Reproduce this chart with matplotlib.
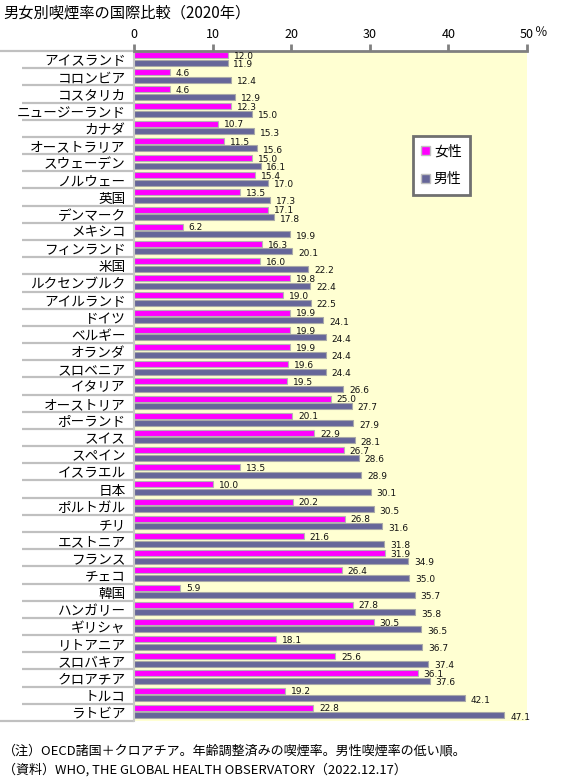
import numpy as np
import matplotlib
matplotlib.use("Agg")
import matplotlib.pyplot as plt
from matplotlib.patches import Patch

plt.rcParams['font.family'] = ['Noto Sans CJK JP', 'DejaVu Sans']

countries = ["アイスランド", "コロンビア", "コスタリカ", "ニュージーランド", "カナダ",
             "オーストラリア", "スウェーデン", "ノルウェー", "英国", "デンマーク",
             "メキシコ", "フィンランド", "米国", "ルクセンブルク", "アイルランド",
             "ドイツ", "ベルギー", "オランダ", "スロベニア", "イタリア",
             "オーストリア", "ポーランド", "スイス", "スペイン", "イスラエル",
             "日本", "ポルトガル", "チリ", "エストニア", "フランス",
             "チェコ", "韓国", "ハンガリー", "ギリシャ", "リトアニア",
             "スロバキア", "クロアチア", "トルコ", "ラトビア"]
female = [12.0, 4.6, 4.6, 12.3, 10.7, 11.5, 15.0, 15.4, 13.5, 17.1,
          6.2, 16.3, 16.0, 19.8, 19.0, 19.9, 19.9, 19.9, 19.6, 19.5,
          25.0, 20.1, 22.9, 26.7, 13.5, 10.0, 20.2, 26.8, 21.6, 31.9,
          26.4, 5.9, 27.8, 30.5, 18.1, 25.6, 36.1, 19.2, 22.8]
male = [11.9, 12.4, 12.9, 15.0, 15.3, 15.6, 16.1, 17.0, 17.3, 17.8,
        19.9, 20.1, 22.2, 22.4, 22.5, 24.1, 24.4, 24.4, 24.4, 26.6,
        27.7, 27.9, 28.1, 28.6, 28.9, 30.1, 30.5, 31.6, 31.8, 34.9,
        35.0, 35.7, 35.8, 36.5, 36.7, 37.4, 37.6, 42.1, 47.1]
xticks = [0, 10, 20, 30, 40, 50]
series_names = ["女性", "男性"]

title = "男女別喫煙率の国際比較（2020年）"
note1 = "（注）OECD諸国＋クロアチア。年齢調整済みの喫煙率。男性喫煙率の低い順。"
note2 = "（資料）WHO, THE GLOBAL HEALTH OBSERVATORY（2022.12.17）"

c_f = "#FF00FF"
c_m = "#666699"

W, H = 564, 784
fig = plt.figure(figsize=(W / 100, H / 100), dpi=100)
x0, x1, y0, y1 = 134, 527, 51, 721
ax = fig.add_axes([x0 / W, 1 - y1 / H, (x1 - x0) / W, (y1 - y0) / H])
ax.set_facecolor("#FFFFD2")

n = len(countries)
rows = np.arange(n)
bh = 0.35
ax.barh(rows + 0.23, female, height=bh, color=c_f, edgecolor="#B4B4B4", linewidth=0.8)
ax.barh(rows + 0.67, male, height=bh, color=c_m, edgecolor="#A8A8A8", linewidth=0.8)

for i in range(n):
    ax.text(female[i] + 0.75, i + 0.30, f"{female[i]:.1f}", fontsize=6.5,
            va="center", ha="left", family="DejaVu Sans", color="#111111")
    ax.text(male[i] + 0.75, i + 0.78, f"{male[i]:.1f}", fontsize=6.5,
            va="center", ha="left", family="DejaVu Sans", color="#111111")

ax.set_xlim(0, 50)
ax.set_ylim(n, 0)

ax.xaxis.tick_top()
ax.set_xticks(xticks)
ax.set_xticklabels([str(t) for t in xticks], fontsize=9)
ax.tick_params(axis="x", length=5, width=2, color="#808080", pad=2)
ax.text(51.0, -1.05, "％", fontsize=9, ha="left", va="center")

ax.set_yticks(rows + 0.5)
ax.set_yticklabels(countries, fontsize=9.8)
ax.tick_params(axis="y", length=0, pad=6)

for s in ["right", "bottom"]:
    ax.spines[s].set_visible(False)
ax.spines["top"].set_color("#808080")
ax.spines["top"].set_linewidth(2)
ax.spines["left"].set_color("#C8C8C8")
ax.spines["left"].set_linewidth(1.5)

# row separators in the label column
tr = ax.get_yaxis_transform()
lx = (22 - x0) / (x1 - x0)
for b in range(1, n):
    ax.plot([lx, 0], [b, b], transform=tr, color="#C0C0C0", lw=1.6,
            clip_on=False, solid_capstyle="butt")
for b in [0, n]:
    ax.plot([-x0 / (x1 - x0), 0], [b, b], transform=tr, color="#C0C0C0", lw=1.6,
            clip_on=False, solid_capstyle="butt")

handles = [Patch(facecolor=c_f, edgecolor="#C0C0C0"), Patch(facecolor=c_m, edgecolor="#C0C0C0")]
leg = ax.legend(handles, series_names, loc="upper left",
                bbox_to_anchor=((413 - x0) / (x1 - x0), 1 - (136 - y0) / (y1 - y0)),
                fontsize=10, frameon=True, fancybox=False, framealpha=1,
                handlelength=0.6, handleheight=0.6, handletextpad=0.3,
                labelspacing=1.0, borderpad=0.6, borderaxespad=0)
leg.get_frame().set_edgecolor("#707070")
leg.get_frame().set_linewidth(2)

fig.text(3 / W, 1 - 13 / H, title, fontsize=11, va="center", ha="left")
fig.text(3 / W, 1 - 751 / H, note1, fontsize=9.4, va="center", ha="left")
fig.text(3 / W, 1 - 770 / H, note2, fontsize=9.4, va="center", ha="left")

fig.savefig("out.png", dpi=100)
